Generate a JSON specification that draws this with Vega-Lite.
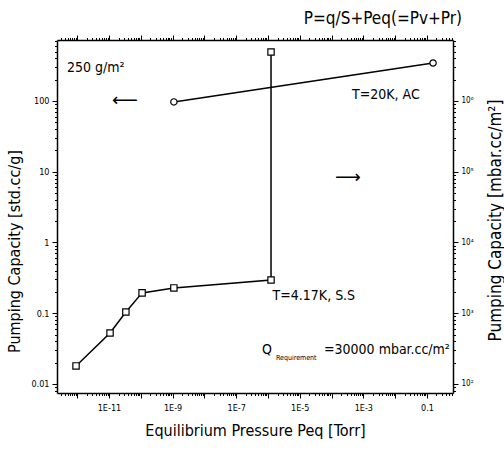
{
  "$schema": "https://vega.github.io/schema/vega-lite/v6.json",
  "width": 396,
  "height": 353,
  "autosize": {"type": "none"},
  "padding": {"left": 57, "top": 40, "right": 51, "bottom": 60},
  "background": "white",
  "config": {
    "font": "Liberation Sans Narrow, DejaVu Sans Condensed, Liberation Sans, sans-serif",
    "view": {"stroke": null},
    "axis": {
      "grid": false,
      "domainColor": "black",
      "domainWidth": 1.5,
      "tickColor": "black",
      "tickWidth": 1,
      "labelColor": "black",
      "titleColor": "black",
      "titleFontWeight": "normal",
      "labelOverlap": false,
      "labelFlush": false,
      "labelBound": false
    }
  },
  "title": {
    "text": "P=q/S+Peq(=Pv+Pr)",
    "anchor": "end",
    "frame": "group",
    "fontSize": 17,
    "fontWeight": "normal",
    "color": "black",
    "offset": 7,
    "dx": 9
  },
  "datasets": {
    "pts": [
      {"series": "4.17K", "order": 1, "x": 9.2e-13, "y": 0.018},
      {"series": "4.17K", "order": 2, "x": 1.08e-11, "y": 0.0526},
      {"series": "4.17K", "order": 3, "x": 3.4e-11, "y": 0.104},
      {"series": "4.17K", "order": 4, "x": 1.1e-10, "y": 0.194},
      {"series": "4.17K", "order": 5, "x": 1.1e-9, "y": 0.228},
      {"series": "4.17K", "order": 6, "x": 1.25e-6, "y": 0.295},
      {"series": "4.17K", "order": 7, "x": 1.25e-6, "y": 492},
      {"series": "20K", "order": 1, "x": 1.1e-9, "y": 97},
      {"series": "20K", "order": 2, "x": 0.156, "y": 344}
    ],
    "notes": [
      {"x": 4.8e-13, "y": 292, "label": "250 g/m²"},
      {"x": 4.4e-4, "y": 122, "label": "T=20K, AC"},
      {"x": 1.4e-6, "y": 0.175, "label": "T=4.17K, S.S"},
      {"x": 6.5e-7, "y": 0.030, "label": "Q"},
      {"x": 5.8e-5, "y": 0.030, "label": "=30000 mbar.cc/m²"}
    ],
    "subs": [
      {"x": 1.8e-6, "y": 0.0233, "label": "Requirement"}
    ],
    "arrows": [
      {"x": 3.2e-11, "y": 100, "label": "⟵"},
      {"x": 3.3e-4, "y": 8.1, "label": "⟶"}
    ]
  },
  "layer": [
    {
      "encoding": {
        "x": {
          "field": "x",
          "type": "quantitative",
          "scale": {"type": "log", "domain": [2.32e-13, 0.661], "nice": false},
          "axis": {
            "orient": "bottom",
            "title": "Equilibrium Pressure  Peq [Torr]",
            "titleFontSize": 16,
            "titlePadding": 10,
            "labelFontSize": 9,
            "labelPadding": 5,
            "values": [3e-13,4e-13,5e-13,6e-13,7e-13,8e-13,9e-13,1e-12,2e-12,3e-12,4e-12,5e-12,6e-12,7e-12,8e-12,9e-12,1e-11,2e-11,3e-11,4e-11,5e-11,6e-11,7e-11,8e-11,9e-11,1e-10,2e-10,3e-10,4e-10,5e-10,6e-10,7e-10,8e-10,9e-10,1e-9,2e-9,3e-9,4e-9,5e-9,6e-9,7e-9,8e-9,9e-9,1e-8,2e-8,3e-8,4e-8,5e-8,6e-8,7e-8,8e-8,9e-8,1e-7,2e-7,3e-7,4e-7,5e-7,6e-7,7e-7,8e-7,9e-7,1e-6,2e-6,3e-6,4e-6,5e-6,6e-6,7e-6,8e-6,9e-6,1e-5,2e-5,3e-5,4e-5,5e-5,6e-5,7e-5,8e-5,9e-5,1e-4,2e-4,3e-4,4e-4,5e-4,6e-4,7e-4,8e-4,9e-4,1e-3,2e-3,3e-3,4e-3,5e-3,6e-3,7e-3,8e-3,9e-3,1e-2,2e-2,3e-2,4e-2,5e-2,6e-2,7e-2,8e-2,9e-2,0.1,0.2,0.3,0.4,0.5,0.6],
            "labelExpr": "abs(log(datum.value)/LN10 - round(log(datum.value)/LN10)) < 0.001 && abs(round(log(datum.value)/LN10)) % 2 == 1 ? (round(log(datum.value)/LN10) == -1 ? '0.1' : '1E' + round(log(datum.value)/LN10)) : ''",
            "tickSize": {"condition": {"test": "abs(log(datum.value)/LN10 - round(log(datum.value)/LN10)) < 0.001", "value": 5}, "value": 2.5}
          }
        },
        "y": {
          "field": "y",
          "type": "quantitative",
          "scale": {"type": "log", "domain": [0.00746, 728], "nice": false},
          "axis": {
            "orient": "left",
            "title": "Pumping Capacity [std.cc/g]",
            "titleFontSize": 16,
            "titlePadding": 8,
            "titleY": 211,
            "labelFontSize": 9,
            "labelPadding": 3,
            "values": [0.008,0.009,0.01,0.02,0.03,0.04,0.05,0.06,0.07,0.08,0.09,0.1,0.2,0.3,0.4,0.5,0.6,0.7,0.8,0.9,1,2,3,4,5,6,7,8,9,10,20,30,40,50,60,70,80,90,100,200,300,400,500,600,700],
            "labelExpr": "abs(log(datum.value)/LN10 - round(log(datum.value)/LN10)) < 0.001 ? '' + round(datum.value*100)/100 : ''",
            "tickSize": {"condition": {"test": "abs(log(datum.value)/LN10 - round(log(datum.value)/LN10)) < 0.001", "value": 5}, "value": 2.5}
          }
        }
      },
      "layer": [
        {
          "data": {"name": "pts"},
          "mark": {"type": "line", "color": "black", "strokeWidth": 1.5},
          "encoding": {
            "detail": {"field": "series"},
            "order": {"field": "order", "type": "quantitative"}
          }
        },
        {
          "data": {"name": "pts"},
          "transform": [{"filter": "datum.series == '4.17K'"}],
          "mark": {"type": "point", "shape": "square", "filled": true, "fill": "white", "stroke": "black", "strokeWidth": 1.2, "size": 40, "opacity": 1}
        },
        {
          "data": {"name": "pts"},
          "transform": [{"filter": "datum.series == '20K'"}],
          "mark": {"type": "point", "shape": "circle", "filled": true, "fill": "white", "stroke": "black", "strokeWidth": 1.2, "size": 40, "opacity": 1}
        },
        {
          "data": {"name": "notes"},
          "mark": {"type": "text", "align": "left", "baseline": "middle", "fontSize": 14, "color": "black"},
          "encoding": {"text": {"field": "label"}}
        },
        {
          "data": {"name": "subs"},
          "mark": {"type": "text", "align": "left", "baseline": "middle", "fontSize": 7, "color": "black"},
          "encoding": {"text": {"field": "label"}}
        },
        {
          "data": {"name": "arrows"},
          "mark": {"type": "text", "align": "center", "baseline": "middle", "fontSize": 18, "font": "DejaVu Sans", "color": "black"},
          "encoding": {"text": {"field": "label"}}
        }
      ]
    },
    {
      "data": {"name": "pts"},
      "mark": {"type": "point", "opacity": 0, "clip": true},
      "encoding": {
        "x": {
          "field": "x",
          "type": "quantitative",
          "scale": {"type": "log", "domain": [2.32e-13, 0.661], "nice": false},
          "axis": {
            "orient": "top",
            "title": null,
            "labels": false,
            "values": [3e-13,4e-13,5e-13,6e-13,7e-13,8e-13,9e-13,1e-12,2e-12,3e-12,4e-12,5e-12,6e-12,7e-12,8e-12,9e-12,1e-11,2e-11,3e-11,4e-11,5e-11,6e-11,7e-11,8e-11,9e-11,1e-10,2e-10,3e-10,4e-10,5e-10,6e-10,7e-10,8e-10,9e-10,1e-9,2e-9,3e-9,4e-9,5e-9,6e-9,7e-9,8e-9,9e-9,1e-8,2e-8,3e-8,4e-8,5e-8,6e-8,7e-8,8e-8,9e-8,1e-7,2e-7,3e-7,4e-7,5e-7,6e-7,7e-7,8e-7,9e-7,1e-6,2e-6,3e-6,4e-6,5e-6,6e-6,7e-6,8e-6,9e-6,1e-5,2e-5,3e-5,4e-5,5e-5,6e-5,7e-5,8e-5,9e-5,1e-4,2e-4,3e-4,4e-4,5e-4,6e-4,7e-4,8e-4,9e-4,1e-3,2e-3,3e-3,4e-3,5e-3,6e-3,7e-3,8e-3,9e-3,1e-2,2e-2,3e-2,4e-2,5e-2,6e-2,7e-2,8e-2,9e-2,0.1,0.2,0.3,0.4,0.5,0.6],
            "tickSize": {"condition": {"test": "abs(log(datum.value)/LN10 - round(log(datum.value)/LN10)) < 0.001", "value": 5}, "value": 2.5}
          }
        },
        "y": {
          "field": "y",
          "type": "quantitative",
          "scale": {"type": "log", "domain": [74.6, 7280000], "nice": false},
          "axis": {
            "orient": "right",
            "title": "Pumping Capacity [mbar.cc/m²]",
            "titleFontSize": 17,
            "titleAngle": 270,
            "titleBaseline": "top",
            "titlePadding": 14,
            "titleY": 180,
            "labelFontSize": 8,
            "labelPadding": 3,
            "values": [80,90,100,200,300,400,500,600,700,800,900,1000,2000,3000,4000,5000,6000,7000,8000,9000,10000,20000,30000,40000,50000,60000,70000,80000,90000,100000,200000,300000,400000,500000,600000,700000,800000,900000,1000000,2000000,3000000,4000000,5000000,6000000,7000000],
            "labelExpr": "abs(log(datum.value)/LN10 - round(log(datum.value)/LN10)) < 0.001 ? '10' + ['⁰','¹','²','³','⁴','⁵','⁶','⁷'][round(log(datum.value)/LN10)] : ''",
            "tickSize": {"condition": {"test": "abs(log(datum.value)/LN10 - round(log(datum.value)/LN10)) < 0.001", "value": 5}, "value": 2.5}
          }
        }
      }
    }
  ],
  "resolve": {"scale": {"y": "independent"}, "axis": {"x": "independent", "y": "independent"}}
}
